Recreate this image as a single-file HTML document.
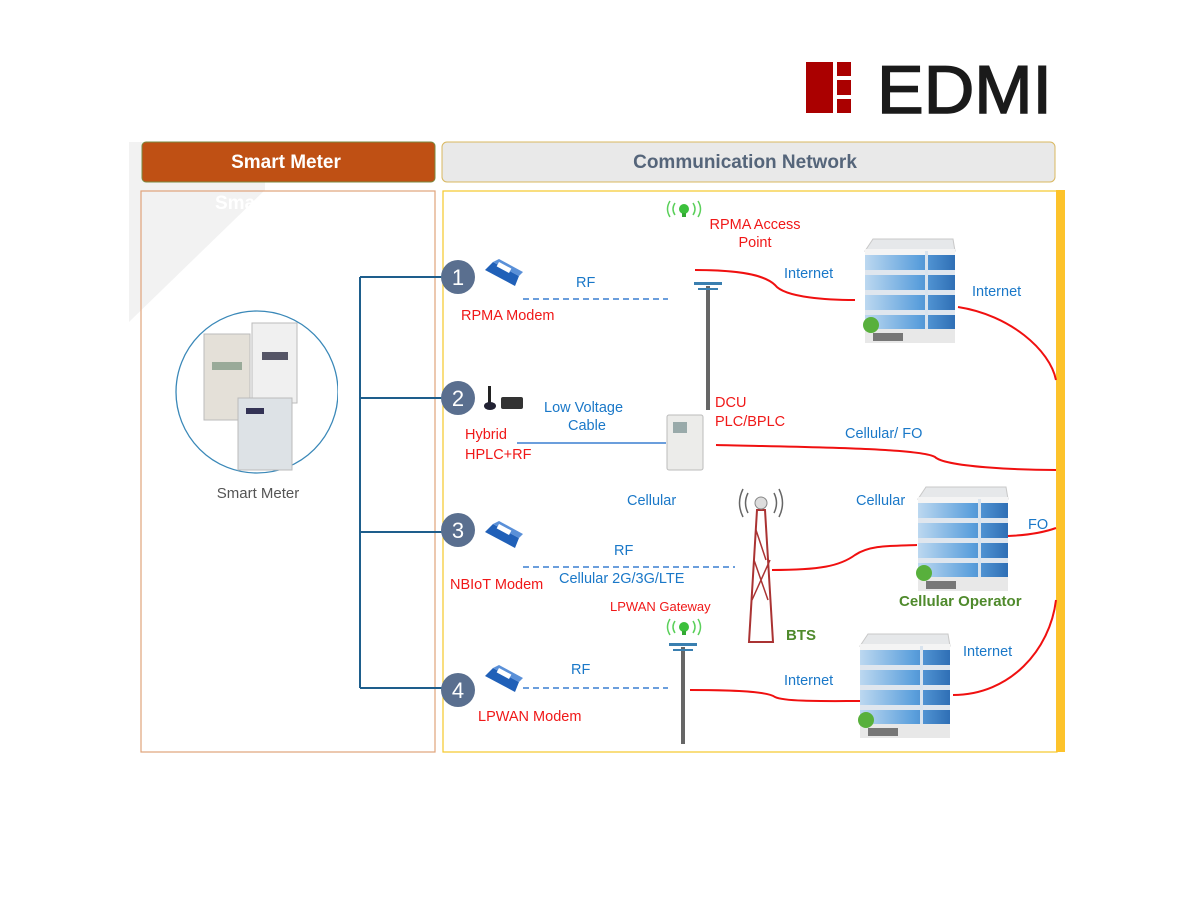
<!DOCTYPE html>
<html><head><meta charset="utf-8"><style>
html,body{margin:0;padding:0;background:#fff;}
svg{display:block;font-family:"Liberation Sans",Arial,sans-serif;}
</style></head><body>
<svg width="1188" height="909" viewBox="0 0 1188 909" xmlns="http://www.w3.org/2000/svg">
<defs>
<linearGradient id="bw" x1="0" y1="0" x2="1" y2="0"><stop offset="0" stop-color="#bcd8f0"/><stop offset="0.6" stop-color="#5b9fdc"/><stop offset="1" stop-color="#2f6fb5"/></linearGradient>
<g id="bld">
<rect x="0" y="14" width="90" height="92" fill="url(#bw)"/>
<path d="M0 14 L8 2 L88 2 L90 14 Z" fill="#e6e8ea" stroke="#c8c8c8"/>
<rect x="0" y="12" width="90" height="6" fill="#f4f4f4"/>
<rect x="0" y="33" width="90" height="5" fill="#dfe6ee"/>
<rect x="0" y="53" width="90" height="5" fill="#dfe6ee"/>
<rect x="0" y="73" width="90" height="5" fill="#dfe6ee"/>
<rect x="60" y="14" width="3" height="92" fill="#d8e3ee"/>
<rect x="0" y="92" width="90" height="14" fill="#e8e8e8"/>
<circle cx="6" cy="88" r="8" fill="#58b03c"/>
<rect x="8" y="96" width="30" height="8" fill="#777"/>
</g>
<g id="modem">
<path d="M0 8 L8 0 L34 14 L30 24 Z" fill="#2060b8"/>
<path d="M8 0 L34 14 L38 10 L14 -3 Z" fill="#5a90d8"/>
<rect x="14" y="0" width="14" height="5" fill="#fff" transform="rotate(28 14 0)"/>
</g>
<g id="pole">
<rect x="-2" y="0" width="4" height="90" fill="#666"/>
<rect x="-14" y="-4" width="28" height="3" fill="#3a7fb0"/>
<rect x="-10" y="2" width="20" height="2" fill="#3a7fb0"/>
</g>
<g id="ap">
<circle cx="0" cy="0" r="5" fill="#3cc03c"/>
<rect x="-2" y="4" width="4" height="4" fill="#3a3"/>
<path d="M-9 -6 Q-13 0 -9 6 M9 -6 Q13 0 9 6 M-14 -8 Q-19 0 -14 8 M14 -8 Q19 0 14 8" fill="none" stroke="#5bd05b" stroke-width="1.5"/>
</g>
</defs>

<!-- logo -->
<rect x="806" y="62" width="27" height="51" fill="#aa0000"/>
<rect x="837" y="62" width="14" height="14" fill="#aa0000"/>
<rect x="837" y="80" width="14" height="15" fill="#aa0000"/>
<rect x="837" y="99" width="14" height="14" fill="#aa0000"/>
<text x="877" y="113" font-size="68" fill="#1a1a1a" textLength="175" lengthAdjust="spacingAndGlyphs" stroke="#1a1a1a" stroke-width="1.5">EDMI</text>

<!-- faint diagonal -->
<path d="M129 142 L265 142 L265 190 L129 322 Z" fill="#f2f2f2"/>

<!-- headers -->
<rect x="142" y="142" width="293" height="40" rx="4" fill="#bf5014" stroke="#7a8a40"/>
<text x="286" y="168" font-size="19" font-weight="bold" fill="#fff" text-anchor="middle">Smart Meter</text>
<rect x="442" y="142" width="613" height="40" rx="5" fill="#e9e9e9" stroke="#d9b860"/>
<text x="745" y="168" font-size="19" font-weight="bold" fill="#55657a" text-anchor="middle">Communication Network</text>

<!-- panels -->
<rect x="141" y="191" width="294" height="561" fill="none" stroke="#e0a37a" stroke-width="1.2"/>
<text x="215" y="209" font-size="19" font-weight="bold" fill="#fff">Sma</text>
<rect x="443" y="191" width="614" height="561" fill="none" stroke="#f5c82a" stroke-width="1.2"/>
<rect x="1056" y="190" width="9" height="562" fill="#fdc32b"/>

<!-- smart meter circle -->
<circle cx="257" cy="392" r="81" fill="none" stroke="#3a88b8" stroke-width="1.3"/>
<rect x="338" y="365" width="8" height="46" fill="#fff"/>
<rect x="204" y="334" width="46" height="86" fill="#e4e0d8" stroke="#bbb"/>
<rect x="212" y="362" width="30" height="8" fill="#9a9"/>
<rect x="252" y="323" width="45" height="80" fill="#f0f0f0" stroke="#bbb"/>
<rect x="262" y="352" width="26" height="8" fill="#556"/>
<rect x="238" y="398" width="54" height="72" fill="#dde2e6" stroke="#bbb"/>
<rect x="246" y="408" width="18" height="6" fill="#335"/>
<text x="258" y="498" font-size="15" fill="#555" text-anchor="middle">Smart Meter</text>

<!-- tree connector -->
<path d="M360 277 V688 M360 277 H446 M360 398 H446 M360 532 H446 M360 688 H446" fill="none" stroke="#1e5e8c" stroke-width="2"/>

<!-- numbers -->
<g font-size="22" fill="#fff" text-anchor="middle">
<circle cx="458" cy="277" r="17" fill="#5a6f8f"/><text x="458" y="285">1</text>
<circle cx="458" cy="398" r="17" fill="#5a6f8f"/><text x="458" y="406">2</text>
<circle cx="458" cy="530" r="17" fill="#5a6f8f"/><text x="458" y="538">3</text>
<circle cx="458" cy="690" r="17" fill="#5a6f8f"/><text x="458" y="698">4</text>
</g>

<use href="#modem" x="485" y="262"/>
<use href="#modem" x="485" y="524"/>
<use href="#modem" x="485" y="668"/>
<!-- hybrid antenna -->
<rect x="488" y="386" width="3" height="20" fill="#222"/><ellipse cx="490" cy="406" rx="6" ry="4" fill="#223"/>
<rect x="501" y="397" width="22" height="12" rx="2" fill="#333"/>

<!-- dashed lines -->
<g stroke="#3a7fd0" stroke-width="1.5" stroke-dasharray="6,4" fill="none">
<path d="M523 299 H668"/>
<path d="M523 567 H735"/>
<path d="M523 688 H668"/>
</g>
<path d="M517 443 H666" stroke="#3a7fd0" stroke-width="1.5"/>

<!-- poles -->
<use href="#pole" x="708" y="286"/>
<rect x="706" y="300" width="4" height="110" fill="#666"/>
<use href="#pole" x="683" y="647"/>
<rect x="681" y="660" width="4" height="84" fill="#666"/>
<use href="#ap" x="684" y="209"/>
<use href="#ap" x="684" y="627"/>

<!-- DCU meter -->
<rect x="667" y="415" width="36" height="55" rx="2" fill="#ececea" stroke="#bbb"/>
<rect x="673" y="422" width="14" height="11" fill="#9aa"/>

<!-- BTS tower -->
<path d="M749 642 L757 510 L765 510 L773 642 Z" fill="none" stroke="#a33" stroke-width="2"/>
<path d="M752 600 L770 560 M754 560 L768 600 M756 530 L766 560" stroke="#a33" stroke-width="1.5"/>
<circle cx="761" cy="503" r="6" fill="#ddd" stroke="#888"/>
<path d="M748 493 Q743 503 748 513 M774 493 Q779 503 774 513 M743 489 Q736 503 743 517 M779 489 Q786 503 779 517" fill="none" stroke="#666" stroke-width="1.5"/>

<!-- buildings -->
<use href="#bld" x="865" y="237"/>
<use href="#bld" x="918" y="485"/>
<use href="#bld" x="860" y="632"/>

<!-- red lines -->
<g stroke="#f01010" stroke-width="2" fill="none">
<path d="M695 270 C740 270 765 275 775 285 C785 298 830 300 855 300"/>
<path d="M958 307 C1010 315 1050 350 1056 380"/>
<path d="M716 445 C800 447 920 448 935 457 C945 467 1020 470 1056 470"/>
<path d="M772 570 C820 570 840 566 855 555 C870 545 890 546 917 545"/>
<path d="M1008 536 C1030 535 1045 532 1056 528"/>
<path d="M1056 600 C1050 650 1010 695 953 695"/>
<path d="M690 690 C750 690 770 693 775 697 C785 702 830 701 860 701"/>
</g>

<!-- labels -->
<g font-size="14.5" fill="#f01818">
<text x="755" y="229" text-anchor="middle">RPMA Access</text>
<text x="755" y="247" text-anchor="middle">Point</text>
<text x="461" y="320">RPMA Modem</text>
<text x="465" y="439">Hybrid</text>
<text x="465" y="459">HPLC+RF</text>
<text x="715" y="407">DCU</text>
<text x="715" y="426">PLC/BPLC</text>
<text x="450" y="589">NBIoT Modem</text>
<text x="610" y="611" font-size="13">LPWAN Gateway</text>
<text x="478" y="721">LPWAN Modem</text>
</g>
<g font-size="14.5" fill="#1a78c8">
<text x="576" y="287">RF</text>
<text x="544" y="412">Low Voltage</text>
<text x="568" y="430">Cable</text>
<text x="784" y="278">Internet</text>
<text x="972" y="296">Internet</text>
<text x="845" y="438">Cellular/ FO</text>
<text x="627" y="505">Cellular</text>
<text x="856" y="505">Cellular</text>
<text x="1028" y="529">FO</text>
<text x="614" y="555">RF</text>
<text x="559" y="583">Cellular 2G/3G/LTE</text>
<text x="571" y="674">RF</text>
<text x="963" y="656">Internet</text>
<text x="784" y="685">Internet</text>
</g>
<text x="899" y="606" font-size="15" font-weight="bold" fill="#4f8a2c">Cellular Operator</text>
<text x="786" y="640" font-size="15" font-weight="bold" fill="#4f8a2c">BTS</text>
</svg>
</body></html>
